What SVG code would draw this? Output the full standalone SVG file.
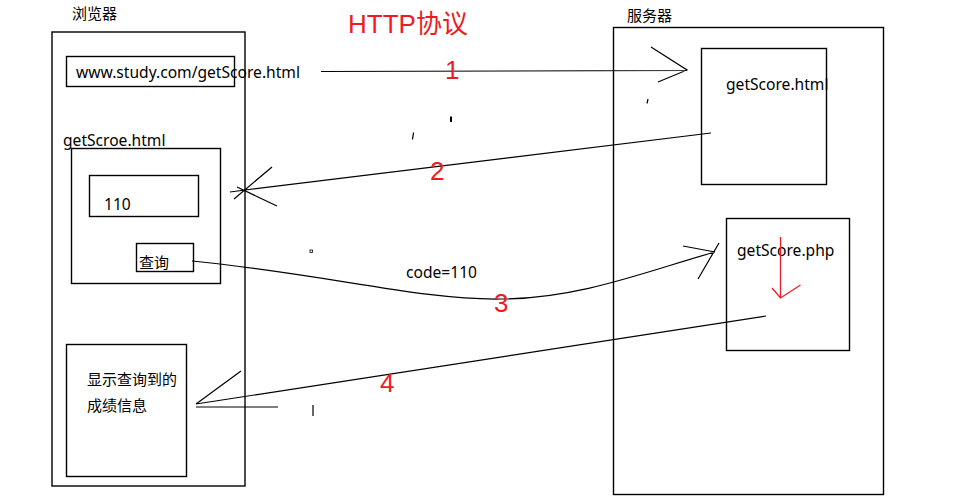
<svg xmlns="http://www.w3.org/2000/svg" width="960" height="503" viewBox="0 0 960 503">
<style>
.box{fill:none;stroke:#000;stroke-width:1.4}
.ln{fill:none;stroke:#000;stroke-width:1.2}
.red{fill:none;stroke:#ED1C24;stroke-width:1.3}
.t{font-family:"Noto Sans","Noto Sans CJK SC",sans-serif;font-size:15.6px;fill:#000}
.cn{font-family:"Noto Sans CJK SC",sans-serif;font-size:15px;fill:#000}
.num{font-family:"Liberation Sans","Noto Sans CJK SC",sans-serif;font-size:26px;fill:#ED1C24}
</style>
<rect width="960" height="503" fill="#fff"/>
<g id="title"><text class="num" x="348" y="33">HTTP协议</text></g>
<g id="browser">
<rect class="box" x="52" y="32" width="193" height="454"/>
<text class="cn" x="72" y="19">浏览器</text>
</g>
<g id="url">
<rect class="box" x="66.5" y="56.5" width="168" height="30"/>
<text class="t" x="76" y="78">www.study.com/getScore.html</text>
</g>
<g id="page">
<text class="t" x="63" y="146">getScroe.html</text>
<rect class="box" x="71.5" y="148.5" width="149" height="135"/>
</g>
<g id="input">
<rect class="box" x="89.5" y="175.5" width="109" height="41"/>
<text class="t" x="104" y="210">110</text>
</g>
<g id="query">
<rect class="box" x="136.5" y="243.5" width="57" height="28"/>
<text class="cn" x="139" y="268">查询</text>
</g>
<g id="result">
<rect class="box" x="66.5" y="344.5" width="120" height="132"/>
<text class="cn" x="87" y="385">显示查询到的</text>
<text class="cn" x="87" y="411">成绩信息</text>
</g>
<g id="server">
<rect class="box" x="613.5" y="27.5" width="270" height="467"/>
<text class="cn" x="627" y="21">服务器</text>
</g>
<g id="html">
<rect class="box" x="701.5" y="48.5" width="125" height="136"/>
<text class="t" x="726" y="90">getScore.html</text>
</g>
<g id="php">
<rect class="box" x="726.5" y="218.5" width="123" height="132"/>
<text class="t" x="737" y="256">getScore.php</text>
<path class="red" d="M780.5 237 L780.5 298 M772 288 L780.5 298 L800.5 285"/>
</g>
<g id="connectors">
<path class="ln" d="M321 71.5 L687 70.5 M651 47 L687 70 L658 82"/>
<text class="num" x="445" y="79">1</text>
<path class="ln" d="M711 133 L245 190 M234 199 L272 167 M237 187 L277 206 M230 192 L245 190"/>
<text class="num" x="430" y="180">2</text>
<path class="ln" d="M192 261 C 330 275, 420 300, 500 299 C 580 299, 650 270, 715 252 M683 246 L715 252 M698 279 L719 243"/>
<text class="t" x="406" y="278">code=110</text>
<text class="num" x="494" y="312">3</text>
<path class="ln" d="M766 316 L196 404 L241 371 M196 407 L278 407"/>
<text class="num" x="380" y="392">4</text>
</g>
<g id="marks">
<path class="ln" d="M451 116.5 L451 122" style="stroke-width:2"/>
<path class="ln" d="M413.5 132.5 L412.5 139.5"/>
<path class="ln" d="M648 99 L647 103.5"/>
<path class="ln" d="M313 405 L313 416"/>
<rect x="310" y="250" width="2.5" height="2.5" fill="none" stroke="#000" stroke-width="0.8"/>
</g>
</svg>
